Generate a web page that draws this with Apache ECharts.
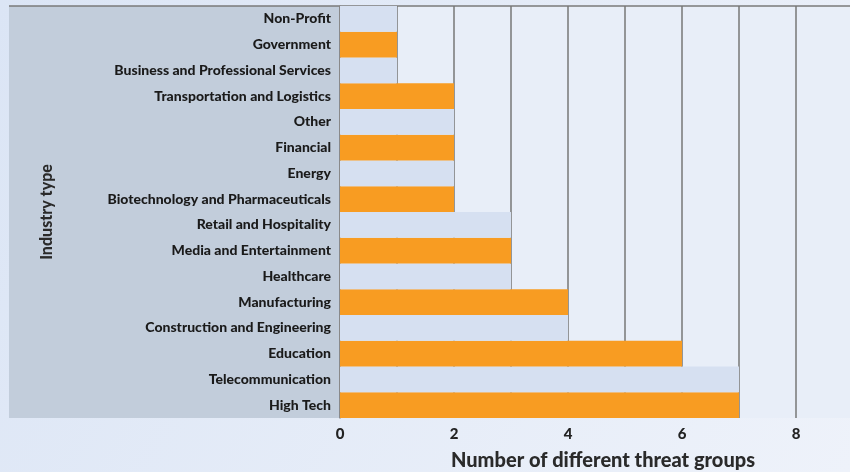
<!DOCTYPE html>
<html><head><meta charset="utf-8">
<script src="https://cdn.jsdelivr.net/npm/echarts@6/dist/echarts.min.js"></script>
<style>html,body{margin:0;padding:0;}#c{width:850px;height:472px;}</style>
</head><body><div id="c"></div>
<script>
const categories = ["High Tech","Telecommunication","Education","Construction and Engineering","Manufacturing","Healthcare","Media and Entertainment","Retail and Hospitality","Biotechnology and Pharmaceuticals","Energy","Financial","Other","Transportation and Logistics","Business and Professional Services","Government","Non-Profit"];
const values = [7,7,6,4,4,3,3,3,2,2,2,2,2,1,1,1];
const xTicks = {min:0, max:8, interval:1};
const ORANGE = '#f89c22', LIGHT = '#d6e0f1';
const chart = echarts.init(document.getElementById('c'));
chart.setOption({
  animation:false,
  backgroundColor:{type:'linear',x:0,y:0,x2:1,y2:1,colorStops:[{offset:0,color:'#dbe5f5'},{offset:1,color:'#eef2fa'}]},
  graphic:[
    {type:'rect',z:-10,shape:{x:9,y:6,width:331,height:412},style:{fill:'#c2cddb'}},
    {type:'rect',z:-10,shape:{x:340,y:6,width:510,height:412},style:{fill:'#e8eef8'}},
    {type:'line',z:-9,shape:{x1:9,y1:6,x2:850,y2:6},style:{stroke:'#7a7a7a',lineWidth:1.5}}
  ],
  grid:{left:340,right:54,top:6,bottom:54,containLabel:false,outerBoundsMode:'none'},
  xAxis:{type:'value',min:xTicks.min,max:xTicks.max,interval:xTicks.interval,
    name:'Number of different threat groups',nameLocation:'middle',nameGap:33,
    nameTextStyle:{fontFamily:'Lato',fontWeight:900,fontSize:20,color:'#2a2a2a',padding:[0,0,0,70]},
    axisLine:{show:false},axisTick:{show:false},
    axisLabel:{fontFamily:'Lato',fontWeight:900,fontSize:15,color:'#222',margin:9,
      formatter:v=>v%2===0?String(v):''},
    splitLine:{show:true,lineStyle:{color:'#777',width:1.5}}
  },
  yAxis:{type:'category',data:categories,
    name:'Industry type',nameLocation:'middle',nameGap:285,
    nameTextStyle:{fontFamily:'Lato',fontWeight:900,fontSize:16,color:'#2a2a2a'},
    axisLine:{show:true,lineStyle:{color:'#888',width:1.5}},axisTick:{show:false},
    axisLabel:{fontFamily:'Lato',fontWeight:900,fontSize:14,color:'#1a1a1a',margin:9}
  },
  series:[{type:'bar',data:values,barCategoryGap:'0%',
    itemStyle:{color:p=>p.dataIndex%2===0?ORANGE:LIGHT}}]
});
</script></body></html>
